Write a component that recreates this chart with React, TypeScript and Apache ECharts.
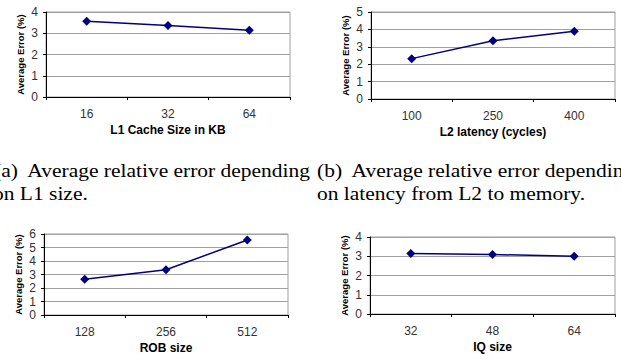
import React, { useEffect, useRef } from "react";
import * as echarts from "echarts";

const l1Sizes = ["16", "32", "64"];
const l1Errors = [3.57, 3.36, 3.14];

const l2Latencies = ["100", "250", "400"];
const l2Errors = [2.32, 3.35, 3.89];

const robSizes = ["128", "256", "512"];
const robErrors = [2.65, 3.35, 5.56];

const iqSizes = ["32", "48", "64"];
const iqErrors = [3.14, 3.09, 3.0];

const yName = "Average Error (%)";
const xNames = ["L1 Cache Size in KB", "L2 latency (cycles)", "ROB size", "IQ size"];
const yMaxes = [4, 5, 6, 4];

const captionA = ["(a)  Average relative error depending", "on L1 size."];
const captionB = ["(b)  Average relative error depending", "on latency from L2 to memory."];

const grids = [
  { left: 46, top: 12, width: 244, height: 85 },
  { left: 371, top: 12, width: 244, height: 87 },
  { left: 44, top: 234, width: 244, height: 81 },
  { left: 370, top: 237, width: 245, height: 77 },
];

const categories = [l1Sizes, l2Latencies, robSizes, iqSizes];
const values = [l1Errors, l2Errors, robErrors, iqErrors];

export default function App() {
  const ref = useRef<HTMLDivElement>(null);
  useEffect(() => {
    if (!ref.current) return;
    const chart = echarts.init(ref.current, null, { renderer: "svg" });
    const sans = "'Liberation Sans', Arial, sans-serif";
    const serif = "'Liberation Serif', 'Times New Roman', serif";
    const captionStyle = (text: string, x: number, y: number) => ({
      type: "text",
      x,
      y,
      scaleX: 1.13,
      style: {
        text,
        font: `19px ${serif}`,
        fill: "#000",
        textAlign: "left",
        textVerticalAlign: "middle",
      },
    });
    chart.setOption({
      animation: false,
      backgroundColor: "#fff",
      grid: grids.map((g) => ({
        ...g,
        show: true,
        borderColor: "#a0a0a0",
        borderWidth: 1,
        backgroundColor: "transparent",
      })),
      xAxis: categories.map((cats, i) => ({
        type: "category",
        gridIndex: i,
        data: cats,
        boundaryGap: true,
        axisLine: { show: true, lineStyle: { color: "#000", width: 1 } },
        axisTick: { show: true, length: 3, alignWithLabel: false, lineStyle: { color: "#000" } },
        axisLabel: { fontFamily: sans, fontSize: 12, color: "#333", margin: 11 },
        splitLine: { show: false },
        name: xNames[i],
        nameLocation: "middle",
        nameGap: 27,
        nameTextStyle: { fontFamily: sans, fontSize: 12, fontWeight: "bold", color: "#000" },
      })),
      yAxis: yMaxes.map((mx, i) => ({
        type: "value",
        gridIndex: i,
        min: 0,
        max: mx,
        interval: 1,
        axisLine: { show: true, lineStyle: { color: "#000", width: 1 } },
        axisTick: { show: true, length: 3, lineStyle: { color: "#000" } },
        axisLabel: { fontFamily: sans, fontSize: 12, color: "#333", margin: 8 },
        splitLine: { show: true, lineStyle: { color: "#a0a0a0", width: 1 } },
        name: yName,
        nameLocation: "middle",
        nameRotate: 90,
        nameGap: 21,
        nameTextStyle: { fontFamily: sans, fontSize: 9.5, fontWeight: "bold", color: "#000" },
      })),
      series: values.map((v, i) => ({
        type: "line",
        xAxisIndex: i,
        yAxisIndex: i,
        data: v,
        symbol: "diamond",
        symbolSize: 9,
        itemStyle: { color: "#000080" },
        lineStyle: { color: "#000080", width: 1.5 },
      })),
      graphic: [
        captionStyle(captionA[0], -6, 170),
        captionStyle(captionA[1], -7, 193),
        captionStyle(captionB[0], 317, 170),
        captionStyle(captionB[1], 317, 193),
      ],
    });
    return () => chart.dispose();
  }, []);
  return (
    <div
      ref={ref}
      style={{ position: "absolute", left: 0, top: 0, width: 621, height: 360, background: "#fff" }}
    />
  );
}
